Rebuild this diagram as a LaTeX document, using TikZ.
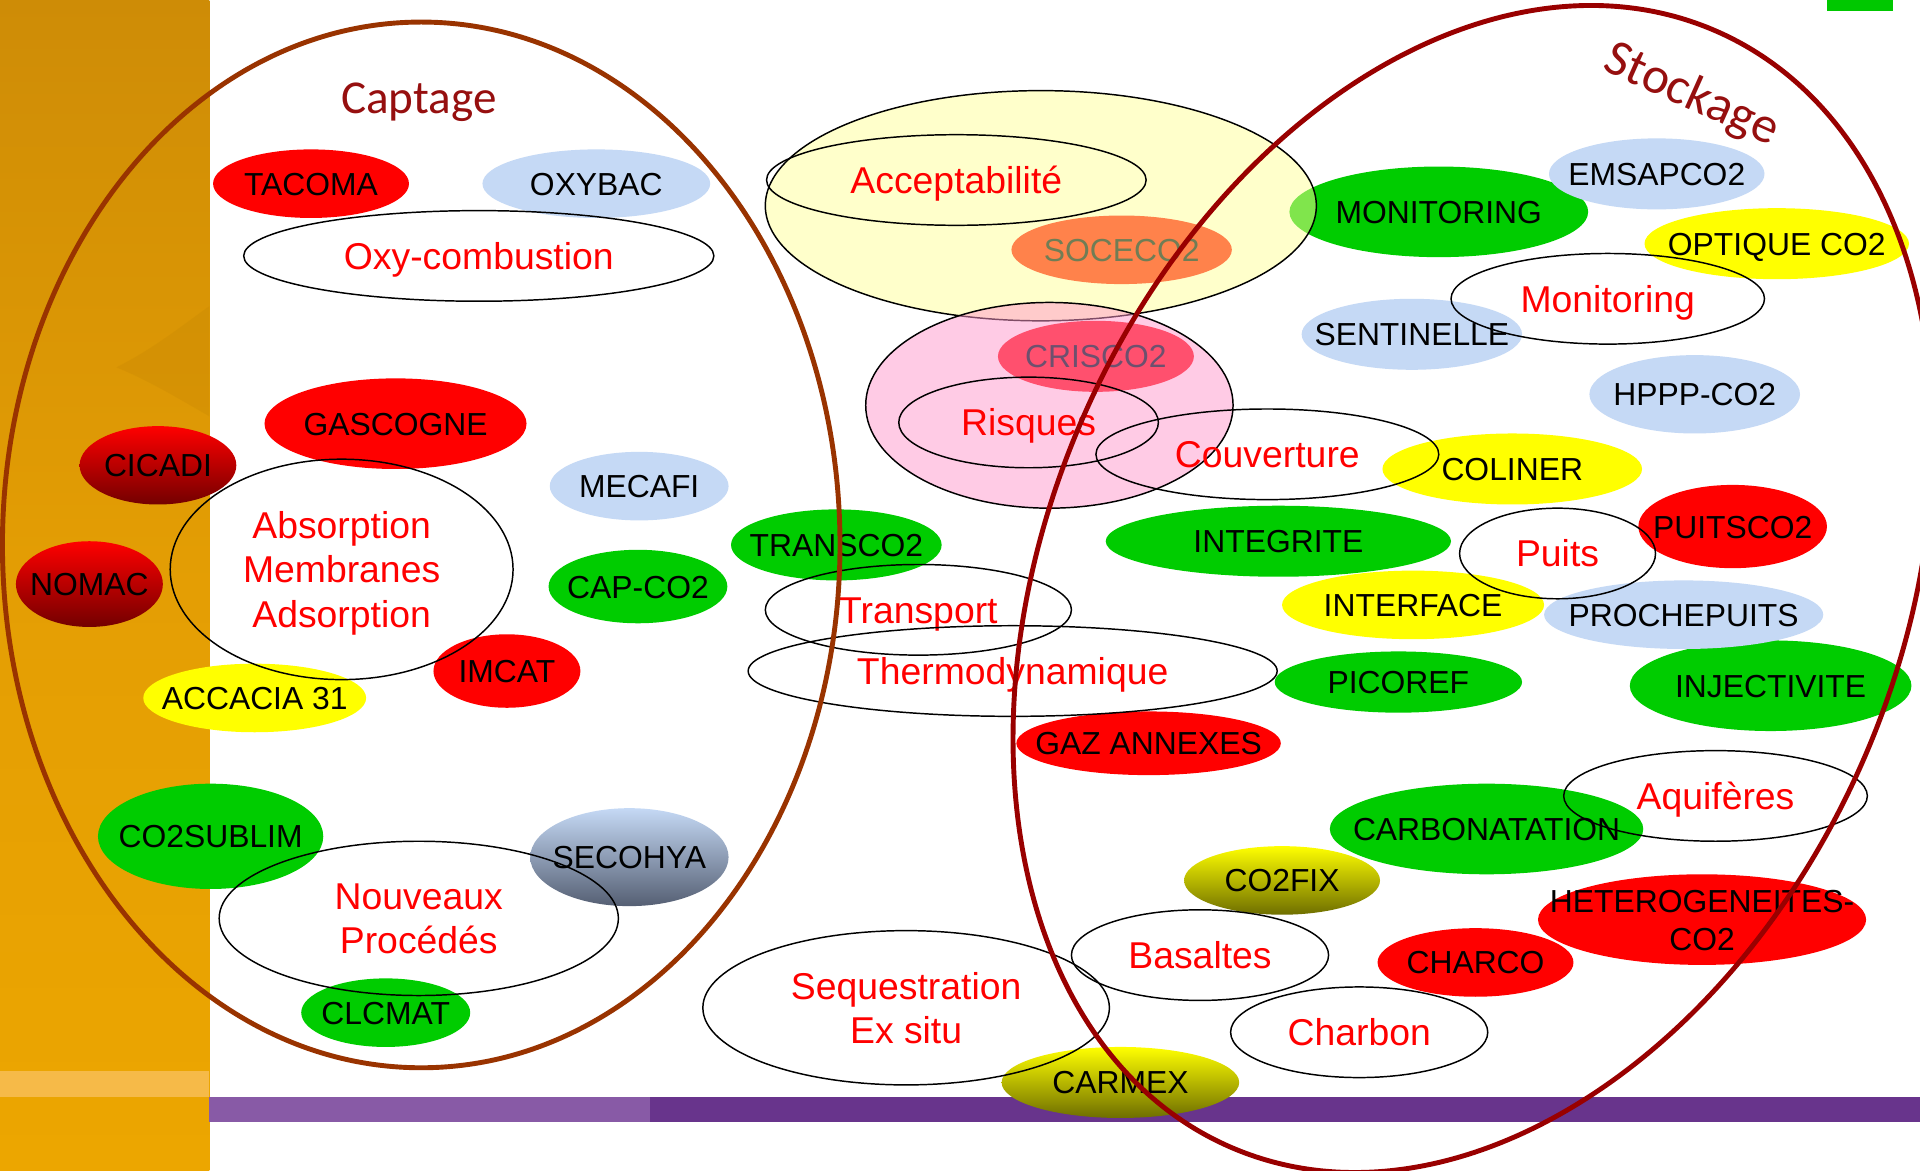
\documentclass[tikz,border=0pt]{standalone}
\usepackage{fontspec}
\setmainfont{Liberation Sans}
\newfontfamily\titlefont{Carlito}
\usetikzlibrary{shapes.geometric}

\definecolor{cred}{RGB}{255,0,0}
\definecolor{cgreen}{RGB}{0,204,0}
\definecolor{cblue}{RGB}{197,217,245}
\definecolor{cyellow}{RGB}{255,255,0}
\definecolor{cbrown}{RGB}{153,51,0}
\definecolor{cdarkred}{RGB}{153,0,0}
\definecolor{ctitle}{RGB}{150,15,15}
\definecolor{corange}{RGB}{255,130,75}
\definecolor{ccrisco}{RGB}{255,80,110}
\definecolor{cyellowbig}{RGB}{255,255,153}
\definecolor{cpink}{RGB}{255,153,204}
\definecolor{ctxtsoc}{RGB}{112,125,85}
\definecolor{ctxtcri}{RGB}{110,80,110}
\definecolor{barA}{RGB}{206,140,6}
\definecolor{barB}{RGB}{228,158,4}
\definecolor{barC}{RGB}{236,166,0}
\definecolor{barDark}{RGB}{190,128,4}
\definecolor{barLight}{RGB}{246,186,72}
\definecolor{purpL}{RGB}{136,90,166}
\definecolor{purpD}{RGB}{104,52,140}
\definecolor{gdark}{RGB}{115,0,0}
\definecolor{slate}{RGB}{85,95,115}
\definecolor{olivedark}{RGB}{110,110,0}
\definecolor{cornergreen}{RGB}{0,200,0}

\newcommand\ctext[1]{\makebox[0pt]{\raisebox{-.36em}[0pt][0pt]{#1}}}
\newcommand\mtext[2]{\makebox[0pt]{\raisebox{#1}[0pt][0pt]{\begin{tabular}[b]{@{}c@{}}#2\end{tabular}}}}

\tikzset{
  sz/.style 2 args={minimum width={2*#1}, minimum height={2*#2}},
  proj/.style={ellipse, inner sep=0pt, outer sep=0pt, text=black, font=\fontsize{26}{31}\selectfont},
  redp/.style={proj, fill=cred},
  greenp/.style={proj, fill=cgreen},
  bluep/.style={proj, fill=cblue},
  yellowp/.style={proj, fill=cyellow},
  darkredp/.style={proj, top color=cred, bottom color=gdark},
  slatep/.style={proj, top color=cblue, bottom color=slate},
  olivep/.style={proj, top color=cyellow, bottom color=olivedark},
  theme/.style={ellipse, draw=black, line width=1.2pt, inner sep=0pt, outer sep=0pt, text=red, font=\fontsize{30.5}{36.5}\selectfont},
  zone/.style={ellipse, draw=black, line width=1.2pt, inner sep=0pt, outer sep=0pt, fill opacity=0.5},
  bigring/.style={ellipse, inner sep=0pt, outer sep=0pt, line width=4pt},
  title/.style={text=ctitle, inner sep=0pt},
}

\begin{document}
\begin{tikzpicture}[x=1pt,y=-1pt]
\useasboundingbox (0,0) rectangle (1568,956);
\clip (0,0) rectangle (1568,956);
\fill[white] (0,0) rectangle (1568,956);

% background
\shade[top color=barA, bottom color=barC, middle color=barB] (0,0) rectangle (171,956);
\fill[barDark, opacity=0.22] (95,300) .. controls (125,285) and (150,265) .. (171,250) -- (171,340) .. controls (145,325) and (120,310) .. (95,300) -- cycle;
\fill[barLight] (0,875) rectangle (171,896);
\fill[purpL] (171,896) rectangle (531,916);
\fill[purpD] (531,896) rectangle (1568,916);
\fill[cornergreen] (1492,0) rectangle (1546,9);

% projects drawn under the zones
\node[greenp, sz={122}{37}] (monitoringP) at (1175,173) {\ctext{MONITORING}};

% zones
\node[zone, fill=cyellowbig, sz={225}{94}] (accZone) at (850,168) {};
\node[zone, fill=cpink, sz={150}{84}] (riskZone) at (857,331) {};

% Captage projects
\node[redp, sz={80}{28}] (tacoma) at (254,150) {\ctext{TACOMA}};
\node[bluep, sz={93}{28}] (oxybac) at (487,150) {\ctext{OXYBAC}};
\node[redp, sz={107}{37}] (gascogne) at (323,346) {\ctext{GASCOGNE}};
\node[darkredp, sz={64}{32}] (cicadi) at (129,380) {\ctext{CICADI}};
\node[darkredp, sz={60}{35}] (nomac) at (73,477) {\ctext{NOMAC}};
\node[bluep, sz={73}{28}] (mecafi) at (522,397) {\ctext{MECAFI}};
\node[greenp, sz={73}{30}] (capco2) at (521,479) {\ctext{CAP-CO2}};
\node[redp, sz={60}{30}] (imcat) at (414,548) {\ctext{IMCAT}};
\node[yellowp, sz={91}{28}] (accacia) at (208,570) {\ctext{ACCACIA 31}};
\node[greenp, sz={92}{43}] (co2sublim) at (172,683) {\ctext{CO2SUBLIM}};
\node[slatep, sz={81}{40}] (secohya) at (514,700) {\ctext{SECOHYA}};
\node[greenp, sz={69}{28}] (clcmat) at (315,827) {\ctext{CLCMAT}};

% middle projects
\node[proj, fill=corange, text=ctxtsoc, sz={90}{28}] (soceco2) at (916,204) {\ctext{SOCECO2}};
\node[proj, fill=ccrisco, text=ctxtcri, sz={80}{29}] (crisco2) at (895,291) {\ctext{CRISCO2}};
\node[greenp, sz={86}{29}] (transco2) at (683,445) {\ctext{TRANSCO2}};
\node[redp, sz={108}{26}] (gazannexes) at (938,607) {\ctext{GAZ ANNEXES}};
\node[olivep, sz={97}{29}] (carmex) at (915,884) {\ctext{CARMEX}};

% Stockage projects
\node[bluep, sz={88}{29}] (emsapco2) at (1353,142) {\ctext{EMSAPCO2}};
\node[yellowp, sz={108}{29}] (optique) at (1451,199) {\ctext{OPTIQUE CO2}};
\node[bluep, sz={90}{29}] (sentinelle) at (1153,273) {\ctext{SENTINELLE}};
\node[bluep, sz={86}{32}] (hppp) at (1384,322) {\ctext{HPPP-CO2}};
\node[yellowp, sz={106}{29}] (coliner) at (1235,383) {\ctext{COLINER}};
\node[redp, sz={77}{34}] (puitsco2) at (1415,430) {\ctext{PUITSCO2}};
\node[greenp, sz={141}{29}] (integrite) at (1044,442) {\ctext{INTEGRITE}};
\node[yellowp, sz={107}{28}] (interface) at (1154,494) {\ctext{INTERFACE}};
\node[greenp, sz={115}{37}] (injectivite) at (1446,560) {\ctext{INJECTIVITE}};
\node[bluep, sz={114}{28}] (prochepuits) at (1375,502) {\ctext{PROCHEPUITS}};
\node[greenp, sz={101}{25}] (picoref) at (1142,557) {\ctext{PICOREF}};
\node[greenp, sz={128}{37}] (carbonatation) at (1214,677) {\ctext{CARBONATATION}};
\node[olivep, sz={80}{28}] (co2fix) at (1047,719) {\ctext{CO2FIX}};
\node[redp, sz={134}{37}] (hetero) at (1390,751) {\mtext{-25pt}{HETEROGENEITES-\\CO2}};
\node[redp, sz={80}{28}] (charco) at (1205,786) {\ctext{CHARCO}};

% themes
\node[theme, sz={192}{37}] (oxycomb) at (391,209) {\ctext{Oxy-combustion}};
\node[theme, sz={140}{90}] (absorption) at (279,465) {\mtext{-47.5pt}{Absorption\\Membranes\\Adsorption}};
\node[theme, sz={163}{63}] (nouveaux) at (342,750) {\mtext{-29pt}{Nouveaux\\Procédés}};
\node[theme, sz={155}{37}] (accept) at (781,147) {\ctext{Acceptabilité}};
\node[theme, sz={106}{37}] (risques) at (840,345) {\ctext{Risques}};
\node[theme, sz={140}{37}] (couverture) at (1035,371) {\ctext{Couverture}};
\node[theme, sz={125}{37}] (transport) at (750,498) {\ctext{Transport}};
\node[theme, sz={216}{37}] (thermo) at (827,548) {\ctext{Thermodynamique}};
\node[theme, sz={166}{63}] (sequest) at (740,823) {\mtext{-29.5pt}{Sequestration\\Ex situ}};
\node[theme, sz={128}{37}] (monitoringT) at (1313,244) {\ctext{Monitoring}};
\node[theme, sz={80}{37}] (puits) at (1272,452) {\ctext{Puits}};
\node[theme, sz={124}{37}] (aquiferes) at (1401,650) {\ctext{Aquifères}};
\node[theme, sz={105}{37}] (basaltes) at (980,780) {\ctext{Basaltes}};
\node[theme, sz={105}{37}] (charbon) at (1110,843) {\ctext{Charbon}};

% big domains
\node[bigring, draw=cbrown, sz={342}{427}] (captage) at (344,445) {};
\node[bigring, draw=cdarkred, sz={348}{497}, rotate=-23.5] (stockage) at (1203,481) {};
\node[title, anchor=base, font=\titlefont\fontsize{38.5}{44}\selectfont] (captageT) at (342,93) {Captage};
\node[title, anchor=base, rotate=-24, font=\titlefont\fontsize{42}{48}\selectfont] (stockageT) at (1377,88) {Stockage};
\end{tikzpicture}
\end{document}
